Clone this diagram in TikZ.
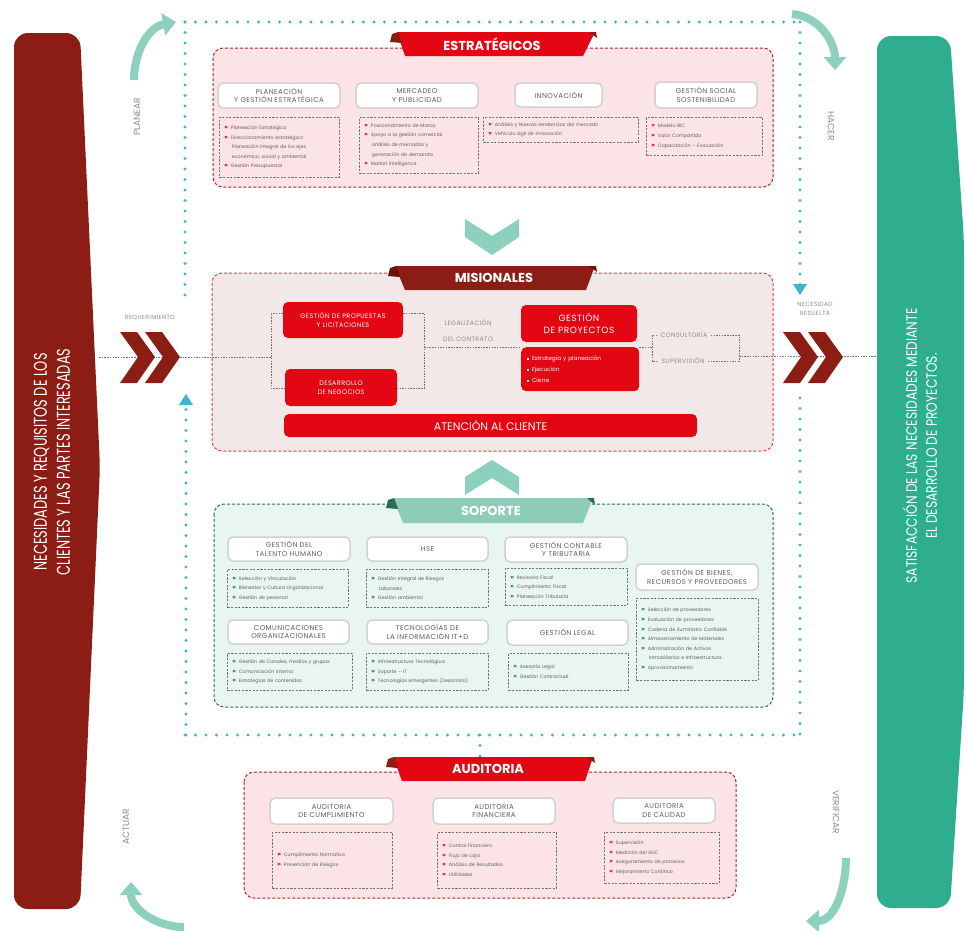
\documentclass[tikz,border=0pt]{standalone}
\usepackage{fontspec}
\setmainfont{Poppins}
\newfontfamily\headfont[LetterSpace=6]{Poppins}
\newfontfamily\leftcond[FakeStretch=0.7]{Poppins}
\newfontfamily\rightcond[FakeStretch=0.82]{Poppins}
\usetikzlibrary{arrows.meta}

\definecolor{estred}{RGB}{227,6,19}
\definecolor{wine}{RGB}{139,29,20}
\definecolor{winedark}{RGB}{105,18,12}
\definecolor{estfill}{RGB}{252,228,230}
\definecolor{estdash}{RGB}{160,40,42}
\definecolor{misfill}{RGB}{243,232,232}
\definecolor{misdash}{RGB}{232,60,70}
\definecolor{sopfill}{RGB}{232,245,241}
\definecolor{sopdash}{RGB}{40,110,80}
\definecolor{soptab}{RGB}{141,204,185}
\definecolor{sopgreen}{RGB}{46,174,143}
\definecolor{cyandot}{RGB}{58,182,207}
\definecolor{pdcateal}{RGB}{141,208,190}
\definecolor{txtgray}{RGB}{95,95,95}

\newcommand{\rbul}{\textcolor{estred}{\bfseries\fontsize{6.5}{6}\selectfont »}\hspace{3pt}}
\newcommand{\gbul}{\textcolor{sopdash}{\bfseries\fontsize{6.5}{6}\selectfont »}\hspace{3pt}}
\newcommand{\wsq}{\rule[0.4pt]{1.8pt}{1.8pt}\hspace{3pt}}
\newcommand{\indt}{\hspace*{7.5pt}}

\begin{document}
\begin{tikzpicture}[x=1pt,y=1pt,yscale=-1,
  head/.style={draw=black!18, line width=1.5pt, fill=white, rounded corners=5pt, inner sep=1pt, align=center, text=txtgray, font=\headfont\fontsize{7}{8.5}\selectfont},
  list/.style={draw=black!55, dash pattern=on 2.2pt off 1.4pt, line width=0.7pt, anchor=north west, align=left, inner xsep=5pt, inner ysep=2pt, text=txtgray, text width=#1, font=\fontsize{4.8}{9.6}\selectfont},
  redbox/.style={fill=estred, rounded corners=5pt, inner sep=1pt, align=center, text=white, font=\headfont\fontsize{6.5}{8.5}\selectfont},
  conn/.style={draw=black!55, dash pattern=on 1.5pt off 1.2pt, line width=0.8pt},
  sect/.style={line width=1pt, dash pattern=on 3pt off 2pt, rounded corners=10pt},
  tabtitle/.style={text=white, font=\bfseries\fontsize{13}{13}\selectfont},
  bluedots/.style={draw=cyandot, line width=3.4pt, line cap=round, dash pattern=on 0pt off 10.5pt},
  pdca/.style={draw=pdcateal, line width=8pt, -{Triangle[width=22pt,length=13pt]}},
  sidelabel/.style={text=black!45, font=\fontsize{9}{9}\selectfont},
  smalllabel/.style={text=black!45, align=center, font=\headfont\fontsize{6}{9}\selectfont}]
\useasboundingbox (0,0) rectangle (966,930);
\fill[white] (0,0) rectangle (966,930);

%Shape: Left bar
\fill[wine, rounded corners=14pt] (14,33) -- (80,33) -- (100,467) -- (80,909) -- (14,909) -- cycle;
\node[rotate=90, text=white, align=center, font=\leftcond\fontsize{18.5}{23}\selectfont] (needs) at (52,462) {NECESIDADES Y REQUISITOS DE LOS\\CLIENTES Y LAS PARTES INTERESADAS};

%Shape: Right bar
\fill[sopgreen, rounded corners=14pt] (877,36) -- (950,36) -- (964,240) -- (964,690) -- (950,908) -- (877,908) -- cycle;
\node[rotate=90, text=white, align=center, font=\rightcond\fontsize{15}{20}\selectfont] (satis) at (920,446) {SATISFACCIÓN DE LAS NECESIDADES MEDIANTE\\EL DESARROLLO DE PROYECTOS.};

%Dotted frame
\draw[bluedots] (185,22) -- (800,22);
\draw[bluedots] (185,22) -- (185,300);
\draw[bluedots] (185,735) -- (800,735);
\draw[bluedots] (800,398) -- (800,735);
\draw[bluedots] (480,735) -- (480,756);
\draw[bluedots] (186,735) -- (186,405);
\draw[bluedots] (800,22) -- (800,285);
\fill[cyandot] (179,405) -- (186,394) -- (193,405) -- cycle;
\fill[cyandot] (793,284) -- (800,295) -- (807,284) -- cycle;

%Curve Lines: PDCA arrows
\draw[pdca] (134,80) to[out=-90,in=170] (176,22);
\draw[pdca] (792,14) to[out=5,in=-90] (835,70);
\draw[pdca] (846,858) to[out=90,in=0] (806,921);
\draw[pdca] (184,927) to[out=180,in=90] (131,882);

% Text Node
\node[sidelabel, rotate=90] (planear) at (137,117) {PLANEAR};
\node[sidelabel, rotate=-90] (hacer) at (831,126) {HACER};
\node[sidelabel, rotate=-90] (verificar) at (836,812) {VERIFICAR};
\node[sidelabel, rotate=90] (actuar) at (126,827) {ACTUAR};

%%%%%%%% ESTRATEGICOS
\draw[sect, draw=estdash, fill=estfill] (213,48) rectangle (773,187);
\fill[estred] (397,32) -- (595,32) -- (583,56) -- (405,56) -- cycle;
\fill[wine] (390,42) -- (392,34) -- (398,32) -- (402,43) -- cycle;
\fill[wine] (589,32) -- (596,32) -- (597,38) -- cycle;
\node[tabtitle] (tEst) at (492,44) {ESTRATÉGICOS};

\node[head, minimum width=122pt, minimum height=25pt] (hPlan) at (279,95.5) {PLANEACIÓN\\Y GESTIÓN ESTRATÉGICA};
\node[head, minimum width=122pt, minimum height=25pt] (hMerc) at (417,95.5) {MERCADEO\\Y PUBLICIDAD};
\node[head, minimum width=87pt, minimum height=24pt] (hInno) at (558.5,95) {INNOVACIÓN};
\node[head, minimum width=102pt, minimum height=26pt] (hSoc) at (706,95) {GESTIÓN SOCIAL\\SOSTENIBILIDAD};

\node[list=110pt, minimum height=60pt] (lPlan) at (219,117) {\rbul Planeación Estratégica\\ \rbul Direccionamiento estratégico:\\ \indt Planeación integral de los ejes\\ \indt económico, social y ambiental\\ \rbul Gestión Presupuestal};
\node[list=109pt, minimum height=56pt] (lMerc) at (359,117) {\rbul Posicionamiento de Marca\\ \rbul Apoyo a la gestión comercial,\\ \indt análisis de mercados y\\ \indt generación de demanda\\ \rbul Market intelligence};
\node[list=145pt, minimum height=25pt] (lInno) at (483,117) {\rbul Análisis y Nuevas tendencias del mercado\\ \rbul Vehículo ágil de innovación};
\node[list=106pt, minimum height=38pt] (lSoc) at (646,117) {\rbul Modelo BIC\\ \rbul Valor Compartido\\ \rbul Capacitación -- Evaluación};

%Shape: down arrow
\fill[pdcateal] (465,219) -- (492,236) -- (519,219) -- (519,237) -- (492,255) -- (465,237) -- cycle;

%%%%%%%% MISIONALES
\draw[sect, draw=misdash, fill=misfill] (212,273) rectangle (773,451);
\fill[wine] (395,266) -- (595,266) -- (586,290) -- (405,290) -- cycle;
\fill[winedark] (388,276) -- (390,268) -- (396,266) -- (400,277) -- cycle;
\fill[winedark] (589,266) -- (596,266) -- (597,272) -- cycle;
\node[tabtitle] (tMis) at (494,278) {MISIONALES};

\node[redbox, minimum width=120pt, minimum height=36pt] (gpl) at (343,320) {GESTIÓN DE PROPUESTAS\\Y LICITACIONES};
\node[redbox, minimum width=112pt, minimum height=37pt] (dn) at (341,387.5) {DESARROLLO\\DE NEGOCIOS};
\node[redbox, minimum width=116pt, minimum height=37pt, font=\headfont\fontsize{9}{12}\selectfont] (gp) at (579,323.5) {GESTIÓN\\DE PROYECTOS};
\node[redbox, anchor=north west, align=left, text width=106pt, minimum height=44pt, inner xsep=6pt, font=\fontsize{5.8}{11}\selectfont] (gplist) at (521,347) {\wsq Estrategia y planeación\\ \wsq Ejecución\\ \wsq Cierre};
\node[redbox, minimum width=413pt, minimum height=23pt, font=\fontsize{11}{11}\selectfont] (atc) at (490.5,425.5) {ATENCIÓN AL CLIENTE};

% Text Node
\node[smalllabel, font=\headfont\fontsize{6.3}{16}\selectfont] (legal) at (468,331) {LEGALIZACIÓN\\DEL CONTRATO};
\node[smalllabel, font=\headfont\fontsize{6.3}{8}\selectfont] (cons) at (684,335) {CONSULTORÍA};
\node[smalllabel, font=\headfont\fontsize{6.3}{8}\selectfont] (sup) at (683,361) {SUPERVISIÓN};
\node[smalllabel] (req) at (150,318) {REQUERIMIENTO};
\node[smalllabel] (resu) at (815,309) {NECESIDAD\\RESUELTA};

%Straight Lines: connectors
\coordinate (reqin) at (99,357);
\coordinate (bkLt) at (271,313);
\coordinate (bkLm) at (271,357);
\coordinate (bkLb) at (271,388);
\coordinate (bkRt) at (424,313);
\coordinate (bkRm) at (424,347);
\coordinate (bkRb) at (424,388);
\coordinate (bkCt) at (652,335);
\coordinate (bkCm) at (652,347);
\coordinate (bkCb) at (652,361);
\coordinate (bkDt) at (739,335);
\coordinate (bkDm) at (739,356);
\coordinate (bkDb) at (739,361);
\coordinate (resout) at (877,356);
\draw[conn] (reqin) -- (bkLm);
\draw[conn] (gpl.west |- bkLt) -- (bkLt) -- (bkLb) -- (dn.west |- bkLb);
\draw[conn] (gpl.east |- bkRt) -- (bkRt) -- (bkRb) -- (dn.east |- bkRb);
\draw[conn] (bkRm) -- (gplist.west |- bkRm);
\draw[conn] (gplist.east |- bkCm) -- (bkCm);
\draw[conn] (cons.west |- bkCt) -- (bkCt) -- (bkCb) -- (sup.west |- bkCb);
\draw[conn] (cons.east |- bkDt) -- (bkDt) -- (bkDb) -- (sup.east |- bkDb);
\draw[conn] (bkDm) -- (resout);

%Shape: chevrons
\fill[wine] (120,332) -- (137,332) -- (155,357) -- (137,383) -- (120,383) -- (138,357) -- cycle;
\fill[wine] (145,332) -- (162,332) -- (180,357) -- (162,383) -- (145,383) -- (163,357) -- cycle;
\fill[wine] (783,332) -- (800,332) -- (818,357) -- (800,383) -- (783,383) -- (801,357) -- cycle;
\fill[wine] (808,332) -- (825,332) -- (843,357) -- (825,383) -- (808,383) -- (826,357) -- cycle;

%Shape: up arrow
\fill[pdcateal] (465,495) -- (492,478) -- (519,495) -- (519,477) -- (492,460) -- (465,477) -- cycle;

%%%%%%%% SOPORTE
\draw[sect, draw=sopdash, fill=sopfill] (214,504) rectangle (773,707);
\fill[soptab] (393,498) -- (593,498) -- (583,523) -- (403,523) -- cycle;
\fill[sopdash] (386,508) -- (388,500) -- (394,498) -- (398,509) -- cycle;
\fill[sopdash] (587,498) -- (594,498) -- (595,505) -- cycle;
\node[tabtitle] (tSop) at (491,511) {SOPORTE};

\node[head, minimum width=122pt, minimum height=24pt] (hTal) at (289,549) {GESTIÓN DEL\\TALENTO HUMANO};
\node[head, minimum width=121pt, minimum height=24pt] (hHse) at (427.5,549) {HSE};
\node[head, minimum width=122pt, minimum height=25pt] (hCon) at (566,549.5) {GESTIÓN CONTABLE\\Y TRIBUTARIA};
\node[head, minimum width=121pt, minimum height=24pt] (hCom) at (288.5,632) {COMUNICACIONES\\ORGANIZACIONALES};
\node[head, minimum width=121pt, minimum height=24pt] (hTec) at (427.5,632) {TECNOLOGÍAS DE\\LA INFORMACIÓN IT+D};
\node[head, minimum width=121pt, minimum height=25pt] (hLeg) at (567.5,632.5) {GESTIÓN LEGAL};
\node[head, minimum width=122pt, minimum height=26pt] (hBie) at (697,577) {GESTIÓN DE BIENES,\\RECURSOS Y PROVEEDORES};

\node[list=111pt, minimum height=38pt] (lTal) at (227,569) {\gbul Selección y Vinculación\\ \gbul Bienestar y Cultura Organizacional\\ \gbul Gestión de personal};
\node[list=112pt, minimum height=38pt] (lHse) at (366,569) {\gbul Gestión Integral de Riesgos\\ \indt Laborales\\ \gbul Gestión ambiental};
\node[list=112pt, minimum height=37pt] (lCon) at (505,568) {\gbul Revisoría Fiscal\\ \gbul Cumplimiento Fiscal\\ \gbul Planeación Tributaria};
\node[list=115pt, minimum height=37pt] (lCom) at (227,653) {\gbul Gestión de Canales, medios y grupos\\ \gbul Comunicación interna\\ \gbul Estrategias de contenidos};
\node[list=112pt, minimum height=37pt] (lTec) at (366,653) {\gbul Infraestructura Tecnológica\\ \gbul Soporte -- IT\\ \gbul Tecnologías emergentes (Desarrollo)};
\node[list=110pt, minimum height=37pt] (lLeg) at (508,653) {\gbul Asesoría Legal\\ \gbul Gestión Contractual};
\node[list=112pt, minimum height=82pt] (lBie) at (636,598) {\gbul Selección de proveedores\\ \gbul Evaluación de proveedores\\ \gbul Cadena de Suministro Confiable\\ \gbul Almacenamiento de Materiales\\ \gbul Administración de Activos\\ \indt Inmobiliarios e Infraestructura\\ \gbul Aprovisionamiento};

%%%%%%%% AUDITORIA
\draw[sect, draw=estdash, fill=estfill] (244,772) rectangle (736,898);
\fill[estred] (393,757) -- (593,757) -- (585,781) -- (402,781) -- cycle;
\fill[wine] (386,767) -- (388,759) -- (394,757) -- (398,768) -- cycle;
\fill[wine] (587,757) -- (594,757) -- (595,763) -- cycle;
\node[tabtitle] (tAud) at (488,769) {AUDITORIA};

\node[head, minimum width=123pt, minimum height=26pt] (hCum) at (331.5,811) {AUDITORIA\\DE CUMPLIMIENTO};
\node[head, minimum width=122pt, minimum height=26pt] (hFin) at (494,811) {AUDITORIA\\FINANCIERA};
\node[head, minimum width=102pt, minimum height=25pt] (hCal) at (664,810.5) {AUDITORIA\\DE CALIDAD};

\node[list=110pt, minimum height=56pt] (lCum) at (272,832) {\rbul Cumplimiento Normativo\\ \rbul Prevención de Riesgos};
\node[list=109pt, minimum height=56pt] (lFin) at (437,832) {\rbul Control financiero\\ \rbul Flujo de caja\\ \rbul Análisis de Resultados\\ \rbul Utilidades};
\node[list=105pt, minimum height=51pt] (lCal) at (604,832) {\rbul Supervisión\\ \rbul Medición del SGC\\ \rbul Aseguramiento de procesos\\ \rbul Mejoramiento Continuo};

\end{tikzpicture}
\end{document}
